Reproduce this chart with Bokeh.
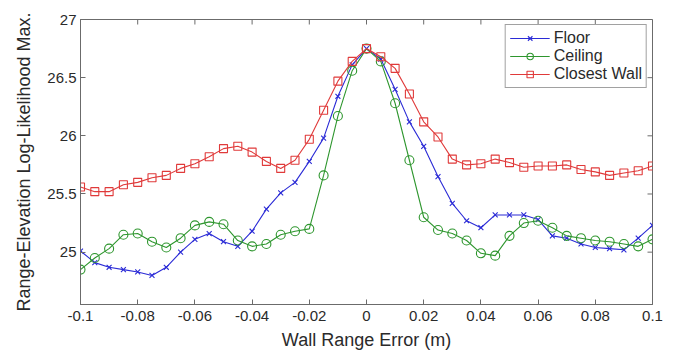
import math
from bokeh.plotting import figure
from bokeh.models import FixedTicker, CustomJSTickFormatter, Range1d, Legend, LegendItem
from bokeh.embed import file_html
from bokeh.resources import INLINE

# x values: wall range error (m)
wall_error = [round(-0.1 + 0.005 * i, 3) for i in range(41)]

floor = [25.01, 24.91, 24.87, 24.85, 24.83, 24.80, 24.87, 25.00, 25.11, 25.16,
         25.09, 25.05, 25.18, 25.37, 25.51, 25.60, 25.78, 25.98, 26.34, 26.61,
         26.75,
         26.66, 26.40, 26.12, 25.91, 25.65, 25.42, 25.27, 25.21, 25.32, 25.32,
         25.32, 25.28, 25.14, 25.12, 25.07, 25.04, 25.03, 25.02, 25.12, 25.23]

ceiling = [24.85, 24.95, 25.03, 25.15, 25.16, 25.09, 25.04, 25.12, 25.23, 25.26,
           25.24, 25.10, 25.05, 25.07, 25.15, 25.18, 25.20, 25.66, 26.17, 26.56,
           26.75,
           26.64, 26.28, 25.79, 25.30, 25.19, 25.16, 25.10, 24.99, 24.97, 25.14,
           25.25, 25.27, 25.21, 25.14, 25.12, 25.10, 25.09, 25.07, 25.05, 25.11]

closest_wall = [25.56, 25.52, 25.52, 25.58, 25.60, 25.64, 25.66, 25.72, 25.76, 25.82,
                25.89, 25.91, 25.86, 25.78, 25.72, 25.79, 25.97, 26.22, 26.47, 26.64,
                26.75,
                26.68, 26.58, 26.36, 26.12, 25.99, 25.80, 25.75, 25.76, 25.80, 25.77,
                25.73, 25.74, 25.74, 25.75, 25.71, 25.69, 25.66, 25.68, 25.70, 25.74]

x_ticks = [-0.1, -0.08, -0.06, -0.04, -0.02, 0, 0.02, 0.04, 0.06, 0.08, 0.1]
y_ticks = [25, 25.5, 26, 26.5, 27]
x_min, x_max = -0.1, 0.1
y_min, y_max = 24.55, 27.0

FONT = "Liberation Sans"
AXIS_COLOR = "#6b6b6b"
TEXT_COLOR = "#2a2a2a"

p = figure(width=678, height=353, output_backend="svg", toolbar_location=None,
           x_range=Range1d(x_min, x_max), y_range=Range1d(y_min, y_max),
           min_border_left=80, min_border_right=26, min_border_top=19, min_border_bottom=49)
p.grid.visible = False
p.outline_line_color = AXIS_COLOR
p.background_fill_color = "white"
p.border_fill_color = "white"

fmt = CustomJSTickFormatter(code="return String(Math.round(tick*1000)/1000);")

for ax in (p.xaxis[0], p.yaxis[0]):
    ax.axis_line_color = AXIS_COLOR
    ax.major_tick_line_color = AXIS_COLOR
    ax.major_tick_in = 5
    ax.major_tick_out = 0
    ax.minor_tick_line_color = None
    ax.formatter = fmt
    ax.major_label_text_font = FONT
    ax.major_label_text_color = TEXT_COLOR
    ax.major_label_text_font_size = "15px"
    ax.axis_label_text_font = FONT
    ax.axis_label_text_font_size = "18px"
    ax.axis_label_text_font_style = "normal"
    ax.axis_label_text_color = TEXT_COLOR

p.xaxis.ticker = FixedTicker(ticks=x_ticks)
p.yaxis.ticker = FixedTicker(ticks=y_ticks)
p.xaxis.major_label_standoff = 6
p.yaxis.major_label_standoff = 4
p.xaxis.axis_label = "Wall Range Error (m)"
p.yaxis.axis_label = "Range-Elevation Log-Likelihood Max."
p.xaxis.axis_label_standoff = 6
p.yaxis.axis_label_standoff = 10

# inward tick marks on the top and right edges of the box (MATLAB "box on")
p.ray(x=x_ticks, y=[y_max] * len(x_ticks), length=5, length_units="screen",
      angle=-math.pi / 2, line_color=AXIS_COLOR, line_width=1)
p.ray(x=[x_max] * len(y_ticks), y=y_ticks, length=5, length_units="screen",
      angle=math.pi, line_color=AXIS_COLOR, line_width=1)

BLUE = "#2b2bd6"
GREEN = "#2e962e"
RED = "#e03a3a"

l1 = p.line(wall_error, floor, line_color=BLUE, line_width=1.1)
s1 = p.scatter(wall_error, floor, marker="x", size=7, line_color=BLUE, line_width=1.1)
l2 = p.line(wall_error, ceiling, line_color=GREEN, line_width=1.1)
s2 = p.scatter(wall_error, ceiling, marker="circle", size=9, line_color=GREEN,
               fill_color=None, line_width=1.1)
l3 = p.line(wall_error, closest_wall, line_color=RED, line_width=1.1)
s3 = p.scatter(wall_error, closest_wall, marker="square", size=8, line_color=RED,
               fill_color=None, line_width=1.1)

legend = Legend(items=[LegendItem(label="Floor", renderers=[l1, s1]),
                       LegendItem(label="Ceiling", renderers=[l2, s2]),
                       LegendItem(label="Closest Wall", renderers=[l3, s3])],
                location="top_right")
legend.label_text_font = FONT
legend.label_text_font_size = "16px"
legend.label_text_color = TEXT_COLOR
legend.border_line_color = "#444444"
legend.border_line_width = 1
legend.background_fill_alpha = 1
legend.margin = 5
legend.padding = 4
legend.spacing = 0
legend.glyph_width = 40
legend.glyph_height = 16
legend.label_height = 16
legend.label_standoff = 4
p.add_layout(legend, "center")

open("out.html", "w").write(file_html(p, INLINE))
